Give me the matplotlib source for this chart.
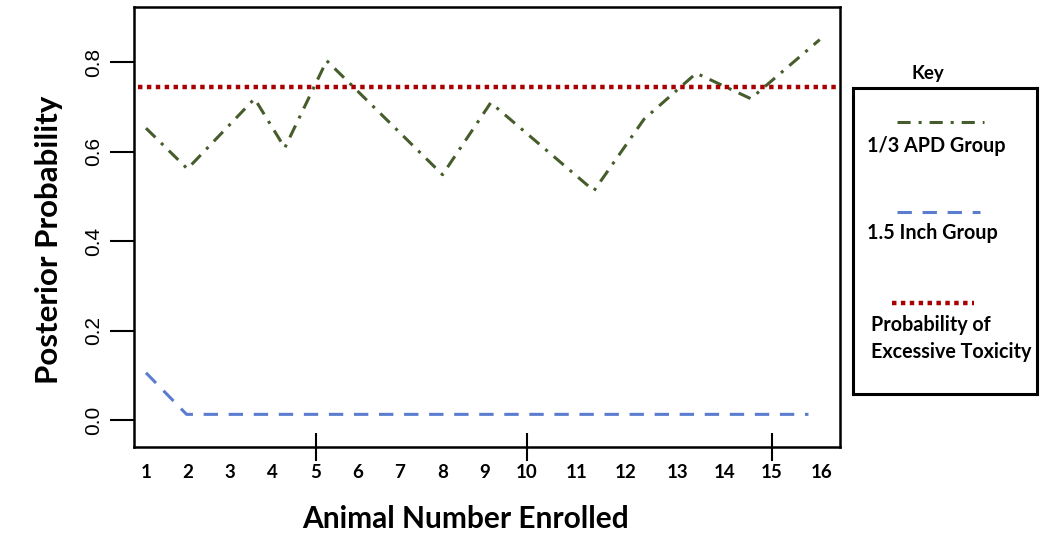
import numpy as np
import matplotlib.pyplot as plt

# posterior probability of excessive toxicity
apd_x = [1.00, 1.92, 3.41, 4.08, 5.01, 7.58, 8.65, 10.94, 12.05, 13.21, 14.42, 15.95]
apd_y = [0.653, 0.562, 0.719, 0.609, 0.804, 0.549, 0.710, 0.513, 0.673, 0.776, 0.719, 0.851]

inch_x = [1.00, 1.90, 15.70]
inch_y = [0.106, 0.013, 0.013]

threshold = 0.744

# the number labels sit a little off an even spacing in the original
label_pos = [1.00, 1.93, 2.86, 3.80, 4.77, 5.70, 6.63, 7.59, 8.52, 9.45,
             10.56, 11.65, 12.80, 13.85, 14.89, 16.00]
labels = [str(i) for i in range(1, 17)]
tick_pos = [4.77, 9.46, 14.89]
yticks = [0.0, 0.2, 0.4, 0.6, 0.8]

green = '#465d2b'
blue = '#5b7ccf'
red = '#a80000'
bold_font = 'Lato'

fig = plt.figure(figsize=(10.5, 5.47), dpi=100)
ax = fig.add_axes([134 / 1050, 1 - 447 / 547, 706 / 1050, 440 / 547])

ax.plot(apd_x, apd_y, color=green, lw=2.2, dashes=(4.3, 2.6, 1, 2.6))
ax.plot(inch_x, inch_y, color=blue, lw=2.2, dashes=(4.7, 3.5))
ax.axhline(threshold, xmin=0.006, xmax=0.994, color=red, lw=3.2, dashes=(1, 1))

ax.set_xlim(0.734, 16.40)
ax.set_ylim(-0.060, 0.924)

for s in ax.spines.values():
    s.set_linewidth(1.8)

ax.set_yticks(yticks)
ax.set_yticklabels(['%.1f' % v for v in yticks], rotation=90, va='center',
                   family='Liberation Sans', fontsize=15)
ax.tick_params(axis='y', direction='out', length=17, width=1.5, pad=5)

ax.xaxis.remove_overlapping_locs = False
ax.set_xticks(label_pos)
ax.set_xticklabels(labels, family=bold_font, weight='bold', fontsize=13.5)
ax.tick_params(axis='x', which='major', length=0, pad=12)
ax.set_xticks(tick_pos, minor=True)
ax.tick_params(axis='x', which='minor', direction='inout', length=20, width=1.5)

fig.text(49 / 1050, 1 - 240 / 547, 'Posterior Probability', rotation=90,
         ha='center', va='center', family=bold_font, weight='bold', fontsize=22.5)
fig.text(466 / 1050, 1 - 519 / 547, 'Animal Number Enrolled',
         ha='center', va='center', family=bold_font, weight='bold', fontsize=21.5)

# key box on the right
kx0, kx1, ky0, ky1 = 853, 1037, 88, 394
key = fig.add_axes([kx0 / 1050, 1 - ky1 / 547, (kx1 - kx0) / 1050, (ky1 - ky0) / 547])
key.set_xlim(kx0, kx1)
key.set_ylim(ky1, ky0)
key.set_xticks([])
key.set_yticks([])
for s in key.spines.values():
    s.set_linewidth(2.2)

fig.text(928 / 1050, 1 - 73 / 547, 'Key', ha='center', va='center',
         family=bold_font, weight='bold', fontsize=13.5)

key.plot([897, 984], [122, 122], color=green, lw=2.2, dashes=(4.3, 2.6, 1, 2.6))
key.text(867, 146, '1/3 APD Group', ha='left', va='center',
         family=bold_font, weight='bold', fontsize=14.2)
key.plot([897, 980], [212, 212], color=blue, lw=2.2, dashes=(4.7, 3.5))
key.text(867, 233, '1.5 Inch Group', ha='left', va='center',
         family=bold_font, weight='bold', fontsize=14.2)
key.plot([892, 974], [303, 303], color=red, lw=3.2, dashes=(1, 1))
key.text(871, 325, 'Probability of', ha='left', va='center',
         family=bold_font, weight='bold', fontsize=14.2)
key.text(871, 352, 'Excessive Toxicity', ha='left', va='center',
         family=bold_font, weight='bold', fontsize=14.2)

fig.savefig('out.png', dpi=100)
